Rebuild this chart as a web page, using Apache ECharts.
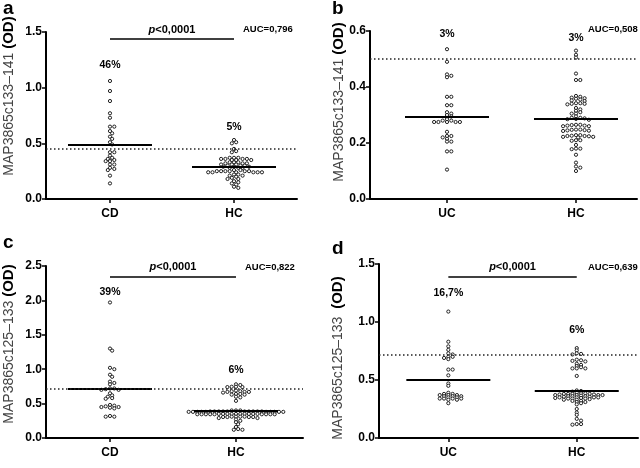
<!DOCTYPE html>
<html>
<head>
<meta charset="utf-8">
<script src="https://cdn.jsdelivr.net/npm/echarts@6/dist/echarts.min.js"></script>
<style>
html,body{margin:0;padding:0;background:#fff}
#main{width:640px;height:468px}
</style>
</head>
<body>
<div id="main"></div>
<script>
// ---- data ----
// a: MAP3865c133-141, CD vs HC
var catsA = ['CD', 'HC'];
var cdA = [1.06, 0.97, 0.88, 0.77, 0.73, 0.65, 0.65, 0.61, 0.59, 0.56, 0.54, 0.51, 0.49, 0.42, 0.42,
  0.39, 0.37, 0.36, 0.35, 0.34, 0.34, 0.31, 0.31, 0.28, 0.27, 0.26, 0.21, 0.14];
var hcA = [0.53, 0.51, 0.50, 0.45, 0.43, 0.42,
  0.37, 0.37, 0.37, 0.36, 0.36, 0.36, 0.36, 0.35, 0.35, 0.35,
  0.33, 0.33, 0.33, 0.32, 0.32, 0.32, 0.31, 0.31, 0.31,
  0.30, 0.30, 0.30, 0.29, 0.29, 0.29, 0.28, 0.28, 0.28,
  0.26, 0.26, 0.25, 0.25, 0.25, 0.25, 0.25, 0.25, 0.24, 0.24, 0.24, 0.24, 0.24, 0.24,
  0.22, 0.22, 0.21, 0.21, 0.20, 0.19, 0.18, 0.18, 0.16, 0.15, 0.14, 0.13, 0.11, 0.10];
var meanA = [0.49, 0.29];
var cutA = 0.45;
var pctA = ['46%', '5%'];
var aucA = 'AUC=0,796';

// b: MAP3865c133-141, UC vs HC
var catsB = ['UC', 'HC'];
var ucB = [0.535, 0.49, 0.445, 0.44, 0.435, 0.365, 0.365, 0.335, 0.335, 0.31, 0.305, 0.30, 0.295,
  0.285, 0.28, 0.28, 0.275, 0.275, 0.275, 0.275, 0.275, 0.24, 0.225, 0.225, 0.22, 0.215, 0.205, 0.205,
  0.17, 0.17, 0.105];
var hcB = [0.53, 0.515, 0.505, 0.448, 0.425, 0.425,
  0.368, 0.365, 0.362, 0.36, 0.358, 0.355, 0.352, 0.35,
  0.342, 0.342, 0.34, 0.34, 0.338,
  0.325, 0.32, 0.315, 0.31, 0.305, 0.305,
  0.295, 0.29, 0.29, 0.288, 0.286, 0.285, 0.283,
  0.265, 0.265, 0.264, 0.262, 0.262, 0.26, 0.26,
  0.248, 0.248, 0.247, 0.246, 0.245, 0.244, 0.243,
  0.228, 0.228, 0.226, 0.225, 0.225, 0.224, 0.222, 0.222, 0.22,
  0.21, 0.21, 0.208, 0.193, 0.18, 0.18, 0.178, 0.158, 0.13, 0.116, 0.112, 0.10];
var meanB = [0.294, 0.288];
var cutB = 0.5;
var pctB = ['3%', '3%'];
var aucB = 'AUC=0,508';

// c: MAP3865c125-133, CD vs HC
var catsC = ['CD', 'HC'];
var cdC = [1.97, 1.30, 1.27, 1.02, 1.00, 0.92, 0.89, 0.82, 0.80, 0.78, 0.72, 0.72, 0.71, 0.70, 0.70,
  0.65, 0.62, 0.60, 0.58, 0.57, 0.48, 0.47, 0.46, 0.45, 0.45, 0.44, 0.43, 0.32, 0.31, 0.31];
var hcC = [0.78, 0.77, 0.745, 0.745, 0.74, 0.74, 0.69, 0.68, 0.68, 0.67, 0.67, 0.67, 0.66,
  0.64, 0.64, 0.63, 0.63, 0.60, 0.59, 0.54,
  0.40, 0.40, 0.40,
  0.385, 0.385, 0.385, 0.385, 0.385, 0.385, 0.385, 0.385, 0.385, 0.385,
  0.38, 0.38, 0.38, 0.38, 0.38, 0.38, 0.38, 0.38, 0.38, 0.38,
  0.35, 0.35, 0.35, 0.35, 0.35, 0.35, 0.35, 0.35, 0.35, 0.35,
  0.345, 0.345, 0.345, 0.345, 0.345, 0.345, 0.345, 0.345, 0.345,
  0.31, 0.31, 0.31, 0.31, 0.305, 0.305, 0.305, 0.305, 0.29, 0.29,
  0.27, 0.25, 0.23, 0.20, 0.16, 0.13, 0.12, 0.12];
var meanC = [0.72, 0.40];
var cutC = 0.725;
var pctC = ['39%', '6%'];
var aucC = 'AUC=0,822';

// d: MAP3865c125-133, UC vs HC
var catsD = ['UC', 'HC'];
var ucD = [1.09, 0.83, 0.79, 0.76, 0.73, 0.72, 0.70, 0.70, 0.69, 0.68, 0.59, 0.59, 0.54, 0.47, 0.45,
  0.39, 0.38, 0.38, 0.37, 0.37, 0.37, 0.36, 0.36, 0.36, 0.35, 0.35, 0.34, 0.34, 0.34, 0.34, 0.33, 0.33, 0.30];
var hcD = [0.775, 0.755, 0.73, 0.725, 0.72, 0.675, 0.67, 0.665, 0.66, 0.64, 0.63, 0.62, 0.61, 0.60, 0.60, 0.60, 0.535,
  0.41, 0.405, 0.40, 0.39, 0.385, 0.385, 0.38, 0.38, 0.38, 0.38, 0.375, 0.375, 0.37, 0.37, 0.37, 0.37,
  0.365, 0.36, 0.36, 0.36, 0.355, 0.355, 0.35, 0.35, 0.35, 0.35, 0.345, 0.345, 0.34, 0.34, 0.34, 0.335,
  0.33, 0.33, 0.32, 0.32, 0.31, 0.31, 0.30, 0.29, 0.25, 0.22, 0.20, 0.165, 0.15, 0.12, 0.12, 0.115];
var meanD = [0.502, 0.404];
var cutD = 0.725;
var pctD = ['16,7%', '6%'];
var aucD = 'AUC=0,639';

var pText = '{i|p}<0,0001';

// ---- layout ----
var FONT = '"Liberation Sans", Arial, sans-serif';
var DX = 4.3;     // horizontal spacing of dots, px
var DY = 2.3;     // vertical distance at which dots stop interacting, px
var HALF = 42;    // half width of mean line, px

var panels = [
  {letter: 'a', cats: catsA, groups: [cdA, hcA], mean: meanA, cut: cutA, pct: pctA, auc: aucA,
    name: 'MAP3865c133\u2013141 ', grid: {left: 46, top: 32, width: 251, height: 167},
    xMin: 0.484, xMax: 2.508, yMax: 1.5, yInt: 0.5, pctY: [1.2, 0.65], bracket: 1.435,
    letterXY: [3, 18], aucXY: [243, 29], nameXY: [9, 96]},
  {letter: 'b', cats: catsB, groups: [ucB, hcB], mean: meanB, cut: cutB, pct: pctB, auc: aucB,
    name: 'MAP3865c133\u2013141 ', grid: {left: 370, top: 31, width: 267, height: 168},
    xMin: 0.403, xMax: 2.473, yMax: 0.6, yInt: 0.2, pctY: [0.588, 0.575], bracket: null,
    letterXY: [332, 18], aucXY: [588, 29], nameXY: [339, 102]},
  {letter: 'c', cats: catsC, groups: [cdC, hcC], mean: meanC, cut: cutC, pct: pctC, auc: aucC,
    name: 'MAP3865c125\u2013133 ', grid: {left: 46, top: 266, width: 257, height: 172},
    xMin: 0.492, xMax: 2.532, yMax: 2.5, yInt: 0.5, pctY: [2.12, 0.99], bracket: 2.35,
    letterXY: [3, 252], aucXY: [245, 267], nameXY: [9, 344]},
  {letter: 'd', cats: catsD, groups: [ucD, hcD], mean: meanD, cut: cutD, pct: pctD, auc: aucD,
    name: 'MAP3865c125\u2013133  ', grid: {left: 379, top: 264, width: 259, height: 174},
    xMin: 0.46, xMax: 2.477, yMax: 1.5, yInt: 0.5, pctY: [1.25, 0.93], bracket: 1.39,
    letterXY: [332, 258], aucXY: [588, 267], nameXY: [338, 358]}
];

// simple beeswarm: each value goes to the free slot nearest the centre
function swarm(vals, cx, xs, ys) {
  var placed = [];
  var out = [];
  var step = DX / 2;
  vals.slice().sort(function (a, b) { return b - a; }).forEach(function (v) {
    var py = v * ys;
    for (var k = 0; k < 400; k++) {
      var off = (k % 2 === 1 ? 1 : -1) * Math.ceil(k / 2) * step;
      var ok = placed.every(function (p) {
        var dx = (p[0] - off) / DX, dy = (p[1] - py) / DY;
        return dx * dx + dy * dy >= 0.999;
      });
      if (ok) {
        placed.push([off, py]);
        out.push([cx + off / xs, v]);
        break;
      }
    }
  });
  return out;
}

var grids = [], xAxes = [], yAxes = [], series = [], graphics = [];

panels.forEach(function (P, i) {
  var xs = P.grid.width / (P.xMax - P.xMin);
  var ys = P.grid.height / P.yMax;
  var h = HALF / xs;
  grids.push(P.grid);
  xAxes.push({
    gridIndex: i, type: 'value', min: P.xMin, max: P.xMax,
    axisLine: {show: true, onZero: false, lineStyle: {color: '#000', width: 2}},
    splitLine: {show: false},
    axisTick: {show: true, customValues: [1, 2], length: 4, lineStyle: {color: '#000', width: 1.5}},
    axisLabel: {customValues: [1, 2], margin: 9, color: '#000', fontWeight: 'bold', fontSize: 12, fontFamily: FONT,
      formatter: function (v) { return P.cats[Math.round(v) - 1] || ''; }}
  });
  yAxes.push({
    gridIndex: i, type: 'value', min: 0, max: P.yMax, interval: P.yInt,
    axisLine: {show: true, lineStyle: {color: '#000', width: 2}},
    splitLine: {show: false},
    axisTick: {show: true, length: 4, lineStyle: {color: '#000', width: 1.5}},
    axisLabel: {margin: 4, color: '#000', fontWeight: 'bold', fontSize: 12, fontFamily: FONT,
      formatter: function (v) { return v.toFixed(1); }}
  });

  var pts = [];
  P.groups.forEach(function (g, j) { pts = pts.concat(swarm(g, j + 1, xs, ys)); });

  var lines = [
    [{coord: [1 - h, P.mean[0]], lineStyle: {width: 2, color: '#000', type: 'solid'}}, {coord: [1 + h, P.mean[0]]}],
    [{coord: [2 - h, P.mean[1]], lineStyle: {width: 2, color: '#000', type: 'solid'}}, {coord: [2 + h, P.mean[1]]}],
    {yAxis: P.cut, lineStyle: {width: 1.5, color: '#222', type: [1.5, 2.5]}}
  ];
  if (P.bracket != null) {
    lines.push([
      {coord: [1, P.bracket], lineStyle: {width: 1.5, color: '#000', type: 'solid'},
        label: {show: true, position: 'insideMiddleTop', distance: 4, formatter: pText,
          color: '#000', fontSize: 11, fontWeight: 'bold', fontFamily: FONT,
          rich: {i: {fontStyle: 'italic', fontWeight: 'bold', fontSize: 11, color: '#000', fontFamily: FONT}}}},
      {coord: [2, P.bracket]}
    ]);
  }

  series.push({
    type: 'scatter', xAxisIndex: i, yAxisIndex: i, data: pts, silent: true,
    symbol: 'circle', symbolSize: 3.2,
    itemStyle: {color: '#fff', borderColor: '#222', borderWidth: 1, opacity: 1},
    markLine: {silent: true, symbol: ['none', 'none'], animation: false, label: {show: false}, data: lines},
    markPoint: {silent: true, symbol: 'circle', symbolSize: 0, animation: false,
      label: {show: true, position: 'inside', formatter: '{b}', color: '#000', fontSize: 10.5,
        fontWeight: 'bold', fontFamily: FONT},
      data: P.pct.map(function (t, j) { return {name: t, coord: [j + 1, P.pctY[j]]}; })}
  });

  graphics.push({type: 'text', x: P.letterXY[0], y: P.letterXY[1],
    style: {text: P.letter, fill: '#000', font: 'bold 19px ' + FONT, verticalAlign: 'bottom'}});
  graphics.push({type: 'text', x: P.aucXY[0], y: P.aucXY[1],
    style: {text: P.auc, fill: '#000', font: 'bold 9.5px ' + FONT, verticalAlign: 'middle'}});
  graphics.push({type: 'text', x: P.nameXY[0], y: P.nameXY[1], rotation: Math.PI / 2,
    style: {text: '{n|' + P.name + '}{b|(OD)}', align: 'center', verticalAlign: 'middle',
      rich: {n: {fontSize: 14, fontFamily: FONT, fill: '#444'},
        b: {fontSize: 15, fontWeight: 'bold', fontFamily: FONT, fill: '#000'}}}});
});

var myChart = echarts.init(document.getElementById('main'));
var option = {
  backgroundColor: '#fff',
  animation: false,
  textStyle: {fontFamily: FONT},
  grid: grids,
  xAxis: xAxes,
  yAxis: yAxes,
  series: series,
  graphic: graphics
};
myChart.setOption(option);
</script>
</body>
</html>
